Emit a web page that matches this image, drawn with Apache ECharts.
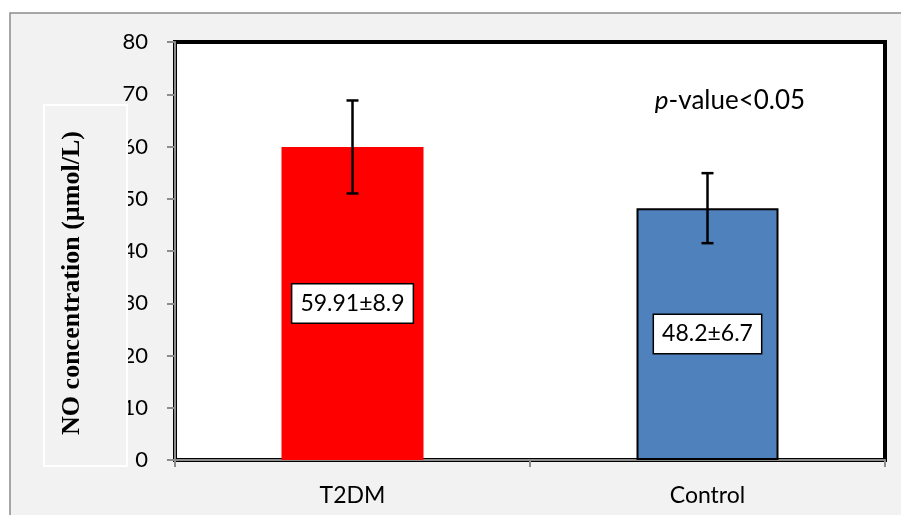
<!DOCTYPE html>
<html>
<head>
<meta charset="utf-8">
<script src="https://cdn.jsdelivr.net/npm/echarts@6/dist/echarts.min.js"></script>
<style>
  html, body { margin: 0; padding: 0; background: #fff; }
  #chart { width: 901px; height: 515px; }
</style>
</head>
<body>
<div id="chart"></div>
<script>
// NO concentration by group: mean ± SD
const categories = ['T2DM', 'Control'];
const means = [59.91, 48.2];
const sds = [8.9, 6.7];
const barColors = ['#ff0000', '#4f81bd'];
const barBorders = ['#ff0000', '#000000'];
const yTicks = { min: 0, max: 80, interval: 10 };
const axisTitle = 'NO concentration (µmol/L)';
const noteText = '-value<0.05';

const font = 'Lato, "Open Sans", sans-serif';

const chart = echarts.init(document.getElementById('chart'), null, { renderer: 'canvas' });

const barData = means.map((m, i) => ({
  value: m,
  itemStyle: { color: barColors[i], borderColor: barBorders[i], borderWidth: i === 1 ? 2 : 0 }
}));

const errData = means.map((m, i) => [i, m - sds[i], m + sds[i]]);

chart.setOption({
  backgroundColor: '#ffffff',
  animation: false,
  grid: {
    left: 175, right: 16, top: 42, bottom: 55,
    show: true, backgroundColor: '#ffffff', borderColor: '#000000', borderWidth: 4
  },
  xAxis: {
    type: 'category',
    data: categories,
    axisLine: { lineStyle: { color: '#8c8c8c', width: 2 } },
    axisTick: { show: true, length: 7, lineStyle: { color: '#8c8c8c', width: 2 } },
    axisLabel: { color: '#000', fontSize: 23, fontFamily: font, margin: 24 }
  },
  yAxis: {
    type: 'value',
    min: yTicks.min, max: yTicks.max, interval: yTicks.interval,
    splitLine: { show: false },
    axisLine: { show: true, lineStyle: { color: '#8c8c8c', width: 2 } },
    axisTick: { show: true, length: 8, lineStyle: { color: '#8c8c8c', width: 2 } },
    axisLabel: { color: '#000', fontSize: 22, fontFamily: font, margin: 27 }
  },
  series: [
    {
      type: 'bar',
      data: barData,
      barWidth: '40%',
      label: {
        show: true,
        position: 'inside',
        formatter: p => means[p.dataIndex] + '±' + sds[p.dataIndex],
        color: '#000',
        fontSize: 23,
        fontFamily: font,
        backgroundColor: '#ffffff',
        borderColor: '#000000',
        borderWidth: 1.5,
        padding: [8, 8, 7, 8]
      },
      z: 2
    },
    {
      type: 'custom',
      data: errData,
      z: 3,
      renderItem: function (params, api) {
        const x = api.value(0);
        const lo = api.coord([x, api.value(1)]);
        const hi = api.coord([x, api.value(2)]);
        const cap = 6;
        const st = { stroke: '#000', lineWidth: 2.5 };
        return {
          type: 'group',
          children: [
            { type: 'line', shape: { x1: lo[0], y1: lo[1], x2: hi[0], y2: hi[1] }, style: st },
            { type: 'line', shape: { x1: hi[0] - cap, y1: hi[1], x2: hi[0] + cap, y2: hi[1] }, style: st },
            { type: 'line', shape: { x1: lo[0] - cap, y1: lo[1], x2: lo[0] + cap, y2: lo[1] }, style: st }
          ]
        };
      }
    }
  ],
  graphic: [
    {
      type: 'rect', z: -10, silent: true,
      shape: { x: 10, y: 13, width: 900, height: 510 },
      style: { fill: '#f2f2f2', stroke: '#8c8c8c', lineWidth: 1.5 }
    },
    {
      type: 'rect', z: 100, silent: true,
      shape: { x: 44, y: 105, width: 83, height: 361 },
      style: { fill: '#f2f2f2', stroke: '#ffffff', lineWidth: 2 }
    },
    {
      type: 'text', z: 101, silent: true,
      x: 72, y: 283, rotation: Math.PI / 2,
      style: {
        text: axisTitle,
        fill: '#000',
        font: 'bold 26px "Liberation Serif", "Times New Roman", serif',
        align: 'center', verticalAlign: 'middle'
      }
    },
    {
      type: 'text', z: 101, silent: true,
      x: 730, y: 101,
      style: {
        text: '{i|p}' + noteText,
        fill: '#000',
        font: '26px ' + font,
        align: 'center', verticalAlign: 'middle',
        rich: { i: { fontStyle: 'italic', fontSize: 26, fontFamily: font, fill: '#000' } }
      }
    }
  ]
});
</script>
</body>
</html>
